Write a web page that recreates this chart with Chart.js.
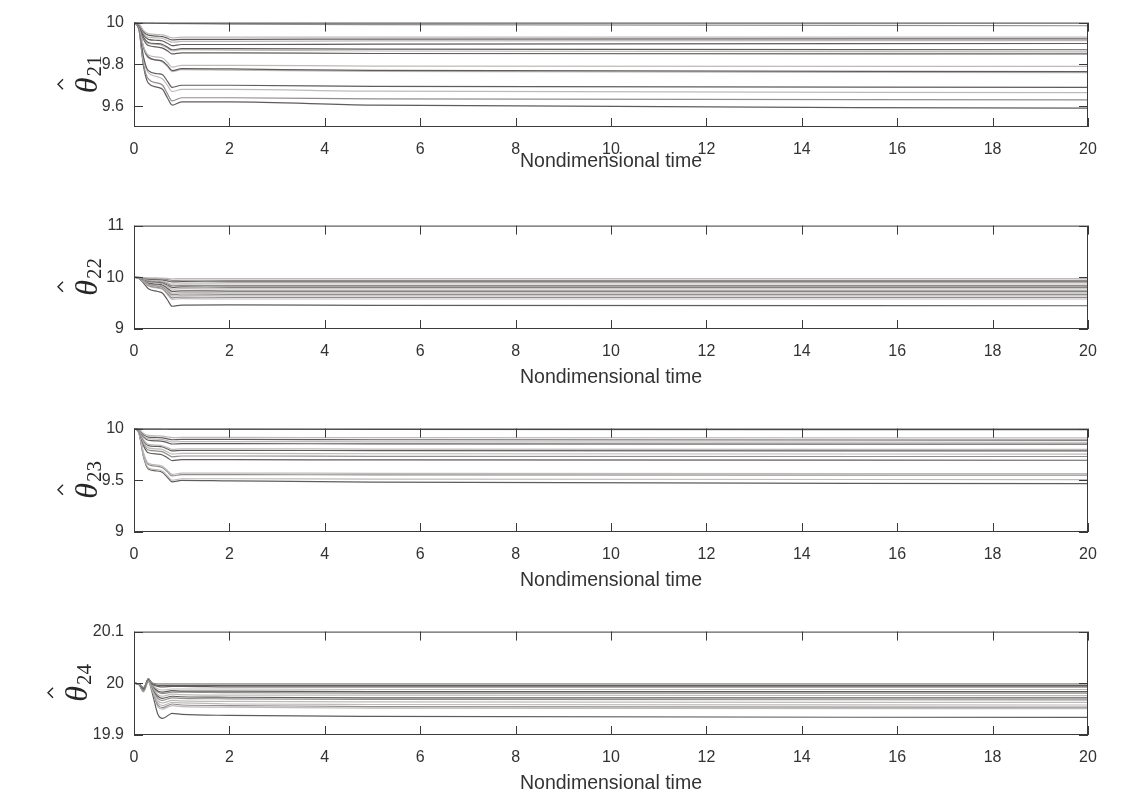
<!DOCTYPE html>
<html>
<head>
<meta charset="utf-8">
<script src="https://cdn.jsdelivr.net/npm/chart.js@4.4.0/dist/chart.umd.min.js"></script>
<style>
  html, body { margin: 0; padding: 0; background: #fff; }
  #wrap { position: relative; width: 1139px; height: 797px; overflow: hidden; }
  #wrap canvas { position: absolute; left: 0; }
</style>
</head>
<body>
<div id="wrap">
  <canvas id="c21" width="1139" height="170" style="top:3px"></canvas>
  <canvas id="c22" width="1139" height="183" style="top:206px"></canvas>
  <canvas id="c23" width="1139" height="183" style="top:409px"></canvas>
  <canvas id="c24" width="1139" height="183" style="top:612px"></canvas>
</div>
<script>
// sample times (nondimensional)
const timeA = [0, 0.1, 0.2, 0.3, 0.5, 0.6, 0.7, 0.8, 1, 2, 5, 20];
const timeB = [0, 0.1, 0.2, 0.3, 0.4, 0.5, 0.6, 0.8, 1, 2, 5, 20];
const xTicks = [0, 2, 4, 6, 8, 10, 12, 14, 16, 18, 20];

// theta_21 estimates
const theta21 = [
  [10, 10, 9.999, 9.998, 9.997, 9.996, 9.996, 9.995, 9.995, 9.993, 9.99, 9.985],
  [10, 9.995, 9.962, 9.947, 9.943, 9.941, 9.934, 9.927, 9.93, 9.93, 9.93, 9.93],
  [10, 9.994, 9.956, 9.94, 9.935, 9.933, 9.925, 9.917, 9.92, 9.92, 9.921, 9.922],
  [10, 9.993, 9.95, 9.93, 9.927, 9.924, 9.915, 9.906, 9.91, 9.91, 9.912, 9.914],
  [10, 9.992, 9.942, 9.92, 9.915, 9.912, 9.901, 9.89, 9.895, 9.895, 9.897, 9.9],
  [10, 9.99, 9.93, 9.905, 9.899, 9.895, 9.883, 9.87, 9.875, 9.875, 9.873, 9.87],
  [10, 9.99, 9.928, 9.9, 9.895, 9.89, 9.878, 9.864, 9.87, 9.868, 9.864, 9.86],
  [10, 9.99, 9.92, 9.89, 9.883, 9.878, 9.865, 9.85, 9.855, 9.855, 9.852, 9.85],
  [10, 9.985, 9.887, 9.845, 9.835, 9.83, 9.81, 9.787, 9.795, 9.795, 9.792, 9.79],
  [10, 9.98, 9.88, 9.835, 9.82, 9.815, 9.795, 9.77, 9.78, 9.778, 9.771, 9.765],
  [10, 9.98, 9.875, 9.83, 9.82, 9.81, 9.79, 9.765, 9.775, 9.772, 9.766, 9.76],
  [10, 9.975, 9.835, 9.77, 9.755, 9.75, 9.72, 9.69, 9.7, 9.7, 9.695, 9.69],
  [10, 9.975, 9.82, 9.76, 9.74, 9.73, 9.7, 9.67, 9.68, 9.68, 9.672, 9.665],
  [10, 9.97, 9.8, 9.73, 9.71, 9.7, 9.66, 9.625, 9.64, 9.64, 9.635, 9.63],
  [10, 9.97, 9.79, 9.71, 9.69, 9.68, 9.64, 9.605, 9.62, 9.62, 9.605, 9.59]
];
const shade21 = ['m', 'l', 'd', 'l', 'd', 'd', 'l', 'd', 'l', 'd', 'l', 'd', 'l', 'm', 'd'];

// theta_22 estimates
const theta22 = [
  [10, 9.999, 9.995, 9.989, 9.987, 9.985, 9.979, 9.972, 9.974, 9.973, 9.973, 9.973],
  [10, 9.998, 9.988, 9.977, 9.971, 9.968, 9.954, 9.941, 9.943, 9.942, 9.942, 9.942],
  [10, 9.997, 9.983, 9.965, 9.957, 9.951, 9.931, 9.911, 9.915, 9.913, 9.913, 9.913],
  [10, 9.995, 9.974, 9.948, 9.935, 9.927, 9.897, 9.867, 9.873, 9.87, 9.87, 9.87],
  [10, 9.994, 9.968, 9.936, 9.92, 9.91, 9.874, 9.837, 9.843, 9.84, 9.84, 9.84],
  [10, 9.992, 9.962, 9.924, 9.905, 9.894, 9.85, 9.806, 9.814, 9.81, 9.81, 9.81],
  [10, 9.991, 9.955, 9.91, 9.888, 9.874, 9.822, 9.77, 9.78, 9.775, 9.775, 9.775],
  [10, 9.989, 9.947, 9.893, 9.867, 9.85, 9.789, 9.728, 9.738, 9.733, 9.733, 9.733],
  [10, 9.988, 9.94, 9.88, 9.85, 9.832, 9.763, 9.694, 9.706, 9.7, 9.7, 9.7],
  [10, 9.987, 9.934, 9.868, 9.835, 9.815, 9.739, 9.663, 9.677, 9.67, 9.67, 9.67],
  [10, 9.986, 9.929, 9.857, 9.822, 9.8, 9.718, 9.636, 9.65, 9.643, 9.643, 9.643],
  [10, 9.984, 9.922, 9.844, 9.805, 9.782, 9.692, 9.602, 9.618, 9.61, 9.61, 9.61],
  [10, 9.983, 9.916, 9.832, 9.79, 9.765, 9.668, 9.572, 9.588, 9.58, 9.58, 9.58],
  [10, 9.978, 9.89, 9.78, 9.725, 9.692, 9.566, 9.44, 9.461, 9.465, 9.458, 9.45]
];
const shade22 = ['l', 'm', 'd', 'l', 'm', 'd', 'l', 'd', 'l', 'm', 'l', 'm', 'l', 'd'];

// theta_23 estimates
const theta23 = [
  [10, 10, 9.998, 9.997, 9.997, 9.996, 9.996, 9.995, 9.995, 9.995, 9.993, 9.99],
  [10, 9.993, 9.953, 9.934, 9.93, 9.928, 9.92, 9.912, 9.915, 9.915, 9.912, 9.91],
  [10, 9.992, 9.942, 9.918, 9.914, 9.911, 9.901, 9.892, 9.895, 9.895, 9.892, 9.889],
  [10, 9.99, 9.931, 9.903, 9.898, 9.894, 9.883, 9.871, 9.875, 9.875, 9.872, 9.868],
  [10, 9.988, 9.92, 9.887, 9.881, 9.877, 9.864, 9.851, 9.855, 9.855, 9.852, 9.85],
  [10, 9.984, 9.893, 9.848, 9.84, 9.834, 9.817, 9.799, 9.805, 9.805, 9.802, 9.799],
  [10, 9.983, 9.885, 9.836, 9.828, 9.822, 9.803, 9.784, 9.79, 9.79, 9.787, 9.784],
  [10, 9.981, 9.868, 9.813, 9.803, 9.796, 9.774, 9.753, 9.76, 9.76, 9.757, 9.754],
  [10, 9.979, 9.854, 9.793, 9.783, 9.775, 9.751, 9.727, 9.735, 9.735, 9.732, 9.73],
  [10, 9.976, 9.835, 9.766, 9.754, 9.745, 9.718, 9.691, 9.7, 9.7, 9.697, 9.694],
  [10, 9.966, 9.764, 9.665, 9.647, 9.635, 9.596, 9.557, 9.57, 9.57, 9.567, 9.565],
  [10, 9.964, 9.755, 9.653, 9.635, 9.622, 9.582, 9.542, 9.555, 9.555, 9.552, 9.55],
  [10, 9.961, 9.733, 9.622, 9.602, 9.588, 9.544, 9.5, 9.515, 9.515, 9.511, 9.507],
  [10, 9.96, 9.725, 9.61, 9.59, 9.575, 9.53, 9.485, 9.5, 9.495, 9.482, 9.468]
];
const shade23 = ['d', 'l', 'd', 'l', 'd', 'l', 'd', 'l', 'm', 'd', 'l', 'm', 'l', 'd'];

// theta_24 estimates
const theta24 = [
  [20, 19.999, 19.992, 20.005, 20.0, 19.999, 19.999, 19.999, 19.999, 19.999, 19.999, 19.999],
  [20, 19.999, 19.991, 20.006, 19.999, 19.996, 19.996, 19.996, 19.996, 19.996, 19.996, 19.996],
  [20, 19.999, 19.99, 20.007, 19.997, 19.994, 19.993, 19.994, 19.994, 19.993, 19.993, 19.993],
  [20, 19.999, 19.99, 20.008, 19.995, 19.989, 19.987, 19.989, 19.989, 19.989, 19.988, 19.988],
  [20, 19.999, 19.989, 20.009, 19.994, 19.985, 19.983, 19.986, 19.985, 19.985, 19.984, 19.984],
  [20, 19.999, 19.988, 20.007, 19.993, 19.983, 19.98, 19.983, 19.983, 19.982, 19.981, 19.981],
  [20, 19.998, 19.988, 20.006, 19.991, 19.978, 19.975, 19.979, 19.978, 19.977, 19.977, 19.976],
  [20, 19.998, 19.987, 20.008, 19.989, 19.975, 19.971, 19.975, 19.974, 19.973, 19.972, 19.972],
  [20, 19.998, 19.987, 20.006, 19.988, 19.971, 19.967, 19.972, 19.971, 19.97, 19.969, 19.968],
  [20, 19.998, 19.986, 20.005, 19.986, 19.966, 19.962, 19.967, 19.966, 19.965, 19.964, 19.963],
  [20, 19.998, 19.986, 20.004, 19.984, 19.962, 19.957, 19.963, 19.962, 19.96, 19.959, 19.958],
  [20, 19.998, 19.985, 20.005, 19.982, 19.958, 19.953, 19.96, 19.958, 19.957, 19.955, 19.954],
  [20, 19.998, 19.985, 20.004, 19.981, 19.955, 19.95, 19.957, 19.955, 19.954, 19.952, 19.951],
  [20, 19.998, 19.984, 20.003, 19.975, 19.94, 19.932, 19.942, 19.94, 19.938, 19.936, 19.934]
];
const shade24 = ['m', 'd', 'd', 'l', 'd', 'm', 'l', 'd', 'm', 'l', 'l', 'm', 'l', 'd'];

const yTicks21 = [9.6, 9.8, 10];
const yTicks22 = [9, 10, 11];
const yTicks23 = [9, 9.5, 10];
const yTicks24 = [19.9, 20, 20.1];

const shades = { l: '#bebaba', m: '#918d8d', d: '#605c5c' };
const sans = '"Liberation Sans", Arial, sans-serif';
const axisColor = '#3a3a3a';

// matlab-ish box with inward tick marks
const boxPlugin = {
  id: 'box',
  afterDatasetsDraw(chart) {
    const { ctx, chartArea: a, scales: { x, y } } = chart;
    ctx.save();
    ctx.strokeStyle = axisColor;
    ctx.lineWidth = 1;
    ctx.strokeRect(a.left + 0.5, a.top + 0.5, a.right - a.left - 1, a.bottom - a.top - 1);
    ctx.beginPath();
    x.ticks.forEach(t => {
      const px = Math.round(x.getPixelForValue(t.value)) + 0.5;
      ctx.moveTo(px, a.bottom); ctx.lineTo(px, a.bottom - 9);
      ctx.moveTo(px, a.top); ctx.lineTo(px, a.top + 9);
    });
    y.ticks.forEach(t => {
      const py = Math.round(y.getPixelForValue(t.value)) + 0.5;
      ctx.moveTo(a.left, py); ctx.lineTo(a.left + 9, py);
      ctx.moveTo(a.right, py); ctx.lineTo(a.right - 9, py);
    });
    ctx.stroke();
    ctx.restore();
  }
};

// rotated \hat{\theta}_{2x} label
const thetaLabel = {
  id: 'thetaLabel',
  afterDraw(chart, args, opts) {
    const { ctx, chartArea: a } = chart;
    const cy = (a.top + a.bottom) / 2;
    ctx.save();
    ctx.translate(opts.x, cy);
    ctx.rotate(-Math.PI / 2);
    ctx.fillStyle = '#262626';
    ctx.textBaseline = 'alphabetic';
    ctx.textAlign = 'left';
    ctx.font = 'italic 32px "Liberation Serif"';
    const wt = ctx.measureText('θ').width;
    ctx.font = '21px "Liberation Serif"';
    const ws = ctx.measureText(opts.sub).width;
    const x0 = -(wt + ws) / 2;
    ctx.font = 'italic 32px "Liberation Serif"';
    ctx.fillText('θ', x0, 0);
    ctx.font = '21px "Liberation Serif"';
    ctx.fillText(opts.sub, x0 + wt + 1, 4);
    const hx = x0 + wt / 2 + 1;
    ctx.strokeStyle = '#262626';
    ctx.lineWidth = 1.4;
    ctx.beginPath();
    ctx.moveTo(hx - 5, -34);
    ctx.lineTo(hx, -39);
    ctx.lineTo(hx + 5, -34);
    ctx.stroke();
    ctx.restore();
  }
};

function makePanel(id, time, series, shade, yMin, yMax, yTicks, sub, labelX, xSpace) {
  const datasets = series.map((vals, i) => ({
    data: vals.map((v, j) => ({ x: time[j], y: v })),
    borderColor: shades[shade[i]],
    borderWidth: 1.2,
    pointRadius: 0,
    fill: false,
    cubicInterpolationMode: 'monotone'
  }));
  new Chart(document.getElementById(id), {
    type: 'line',
    data: { datasets },
    options: {
      responsive: false,
      animation: false,
      events: [],
      layout: { padding: { top: 12, right: 51, left: 0, bottom: 0 } },
      plugins: {
        legend: { display: false },
        tooltip: { enabled: false },
        thetaLabel: { sub, x: labelX }
      },
      scales: {
        x: {
          type: 'linear',
          min: 0,
          max: 20,
          afterBuildTicks: s => { s.ticks = xTicks.map(v => ({ value: v })); },
          afterFit: s => { s.height = xSpace; },
          grid: { display: false, drawTicks: false },
          border: { display: false },
          ticks: {
            padding: 13,
            color: '#333',
            font: { size: 16, family: sans },
            maxRotation: 0,
            callback: v => String(v)
          },
          title: {
            display: true,
            text: 'Nondimensional time',
            color: '#333',
            font: { size: 19.5, family: sans },
            padding: { top: 0, bottom: 0 }
          }
        },
        y: {
          min: yMin,
          max: yMax,
          afterBuildTicks: s => { s.ticks = yTicks.map(v => ({ value: v })); },
          afterFit: s => { s.width = 134; },
          grid: { display: false, drawTicks: false },
          border: { display: false },
          ticks: {
            padding: 10,
            color: '#333',
            font: { size: 16, family: sans },
            callback: v => String(+v.toFixed(2))
          }
        }
      }
    },
    plugins: [boxPlugin, thetaLabel]
  });
}

makePanel('c21', timeA, theta21, shade21, 9.5, 10, yTicks21, '21', 97, 46);
makePanel('c22', timeA, theta22, shade22, 9, 11, yTicks22, '22', 97, 60);
makePanel('c23', timeA, theta23, shade23, 9, 10, yTicks23, '23', 97, 60);
makePanel('c24', timeB, theta24, shade24, 19.9, 20.1, yTicks24, '24', 87, 60);
</script>
</body>
</html>
